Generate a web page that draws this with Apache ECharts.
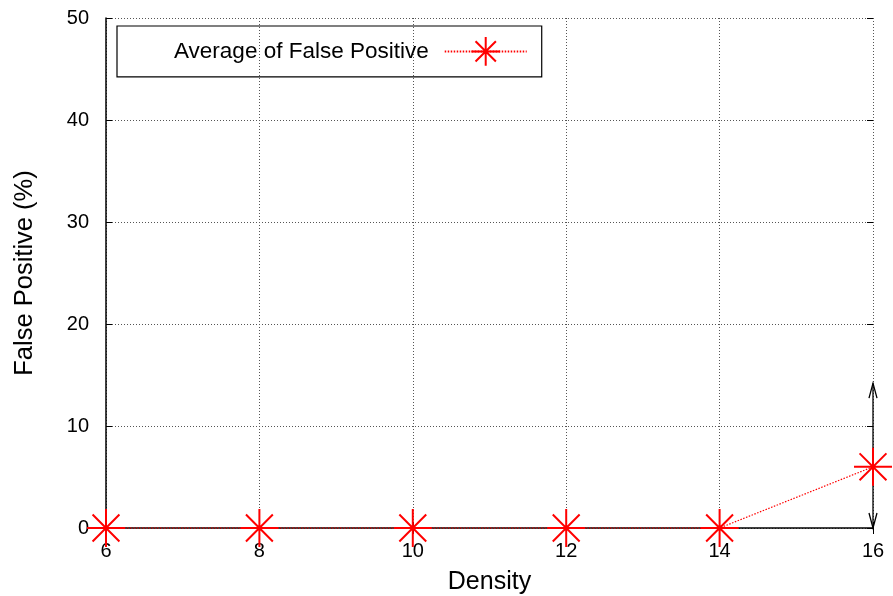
<!DOCTYPE html>
<html><head><meta charset="utf-8">
<script src="https://cdn.jsdelivr.net/npm/echarts@6/dist/echarts.min.js"></script>
<style>html,body{margin:0;padding:0;background:#fff}#c{width:893px;height:596px}</style>
</head><body><div id="c"></div>
<script>
const density = [6, 8, 10, 12, 14, 16];
const avgFalsePositive = [0, 0, 0, 0, 0, 6];
const errLow = [0, 0, 0, 0, 0, 0];
const errHigh = [0, 0, 0, 0, 0, 14.2];
const seriesName = 'Average of False Positive';

const star = 'path://M0,10 L20,10 M10,0 L10,20 M2.93,2.93 L17.07,17.07 M17.07,2.93 L2.93,17.07';
const chart = echarts.init(document.getElementById('c'));
const font = 'Liberation Sans, Arial, sans-serif';
const errData = density.map((d, i) => [d, errLow[i], errHigh[i]]).filter(e => e[2] > e[1]);

chart.setOption({
  animation: false,
  grid: { left: 106, right: 20, top: 18, bottom: 68, containLabel: false, outerBoundsMode: 'none' },
  legend: {
    left: 117, top: 26,
    padding: [10, 14, 10, 57],
    borderColor: '#000', borderWidth: 1.2,
    align: 'right',
    itemWidth: 82, itemHeight: 36,
    textStyle: { fontFamily: font, fontSize: 22.5, color: '#000', padding: [0, 11, 0, 0] },
    data: [{ name: seriesName }]
  },
  xAxis: [{
    type: 'value', min: 6, max: 16, interval: 2,
    name: 'Density', nameLocation: 'middle', nameGap: 42,
    nameTextStyle: { fontFamily: font, fontSize: 25, color: '#000' },
    axisLine: { lineStyle: { color: '#000', width: 1.5 } },
    axisTick: { inside: true, length: 6, lineStyle: { color: '#000' } },
    axisLabel: { fontFamily: font, fontSize: 20, color: '#000', margin: 13 },
    splitLine: { show: true, lineStyle: { color: '#555', type: [1, 2], width: 1 } }
  }, {
    type: 'value', min: 6, max: 16, interval: 2, position: 'top',
    axisLine: { show: false },
    axisTick: { inside: true, length: 6, lineStyle: { color: '#000' } },
    axisLabel: { show: false }, splitLine: { show: false }
  }],
  yAxis: [{
    type: 'value', min: 0, max: 50, interval: 10,
    name: 'False Positive (%)', nameLocation: 'middle', nameGap: 68,
    nameTextStyle: { fontFamily: font, fontSize: 25.5, color: '#000' },
    axisLine: { show: true, lineStyle: { color: '#000', width: 1.5 } },
    axisTick: { inside: true, length: 6, lineStyle: { color: '#000' } },
    axisLabel: { fontFamily: font, fontSize: 20, color: '#000', margin: 17 },
    splitLine: { show: true, lineStyle: { color: '#555', type: [1, 2], width: 1 } }
  }, {
    type: 'value', min: 0, max: 50, interval: 10, position: 'right',
    axisLine: { show: false },
    axisTick: { inside: true, length: 6, lineStyle: { color: '#000' } },
    axisLabel: { show: false }, splitLine: { show: false }
  }],
  series: [{
    name: seriesName, type: 'line',
    data: density.map((d, i) => [d, avgFalsePositive[i]]),
    symbol: star, symbolSize: 38, clip: false, z: 5,
    lineStyle: { color: '#ff0000', width: 1.2, type: [1.5, 1.5] },
    itemStyle: { color: 'rgba(0,0,0,0)', borderColor: '#ff0000', borderWidth: 2 }
  }, {
    type: 'custom', clip: false, z: 4, silent: true,
    data: errData,
    renderItem: function (params, api) {
      const x = api.coord([api.value(0), 0])[0];
      const yl = api.coord([0, api.value(1)])[1];
      const yh = api.coord([0, api.value(2)])[1];
      const s = { stroke: '#000', lineWidth: 1.3, fill: null };
      return { type: 'group', children: [
        { type: 'line', shape: { x1: x, y1: yl, x2: x, y2: yh }, style: s },
        { type: 'polyline', shape: { points: [[x - 4, yh + 15], [x, yh], [x + 4, yh + 15]] }, style: s },
        { type: 'polyline', shape: { points: [[x - 4, yl - 15], [x, yl], [x + 4, yl - 15]] }, style: s }
      ]};
    }
  }]
});
</script></body></html>
